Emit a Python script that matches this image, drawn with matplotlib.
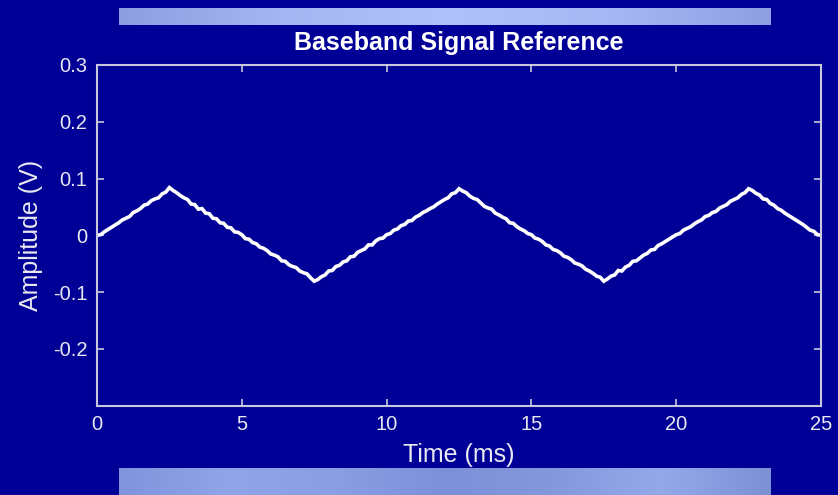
import numpy as np
import matplotlib
matplotlib.use("Agg")
import matplotlib.pyplot as plt
from matplotlib.colors import LinearSegmentedColormap

plt.rcParams['font.family'] = ['Liberation Sans', 'DejaVu Sans']

# ---- data ----
time_step_ms = 0.125
amplitude_v = [
    0.000, 0.001, 0.006, 0.010, 0.014, 0.018, 0.022, 0.027, 0.030, 0.033,
    0.040, 0.043, 0.047, 0.053, 0.055, 0.061, 0.064, 0.066, 0.073, 0.076, 0.084,
    # 2.5 -> 7.5
    0.079, 0.075, 0.070, 0.066, 0.063, 0.055, 0.054, 0.046, 0.047, 0.039,
    0.038, 0.030, 0.029, 0.022, 0.021, 0.014, 0.013, 0.006, 0.005, 0.001,
    -0.006, -0.007, -0.013, -0.015, -0.021, -0.023, -0.027, -0.033, -0.035, -0.038,
    -0.045, -0.046, -0.052, -0.055, -0.057, -0.063, -0.066, -0.068, -0.075, -0.081,
    # 7.5 -> 12.5
    -0.078, -0.073, -0.070, -0.063, -0.062, -0.055, -0.053, -0.047, -0.045, -0.038,
    -0.037, -0.030, -0.027, -0.024, -0.017, -0.017, -0.010, -0.006, -0.005, 0.001,
    0.003, 0.009, 0.011, 0.017, 0.019, 0.025, 0.026, 0.032, 0.035, 0.040,
    0.043, 0.047, 0.050, 0.055, 0.059, 0.063, 0.066, 0.073, 0.075, 0.082,
    # 12.5 -> 17.5
    0.078, 0.075, 0.069, 0.065, 0.063, 0.057, 0.051, 0.048, 0.046, 0.039,
    0.036, 0.032, 0.029, 0.022, 0.021, 0.015, 0.011, 0.008, 0.003, 0.001,
    -0.005, -0.007, -0.011, -0.017, -0.019, -0.025, -0.027, -0.031, -0.037, -0.039,
    -0.043, -0.049, -0.051, -0.054, -0.060, -0.063, -0.067, -0.072, -0.074, -0.081,
    # 17.5 -> 22.5
    -0.077, -0.072, -0.070, -0.062, -0.063, -0.056, -0.053, -0.046, -0.045, -0.040,
    -0.035, -0.032, -0.026, -0.025, -0.018, -0.015, -0.011, -0.007, -0.003, 0.001,
    0.003, 0.009, 0.012, 0.015, 0.020, 0.024, 0.027, 0.033, 0.035, 0.040,
    0.042, 0.048, 0.051, 0.054, 0.060, 0.063, 0.066, 0.072, 0.075, 0.082,
    # 22.5 -> 25
    0.079, 0.074, 0.071, 0.064, 0.063, 0.056, 0.053, 0.047, 0.044, 0.039,
    0.035, 0.031, 0.027, 0.023, 0.019, 0.014, 0.009, 0.007, 0.001, 0.000,
]
time_ms = np.arange(len(amplitude_v)) * time_step_ms

x_ticks = [0, 5, 10, 15, 20, 25]
y_ticks = [-0.2, -0.1, 0, 0.1, 0.2, 0.3]
y_tick_labels = ['-0.2', '-0.1', '0', '0.1', '0.2', '0.3']

title = 'Baseband Signal Reference'
xlabel = 'Time (ms)'
ylabel = 'Amplitude (V)'

# ---- style ----
BG = '#000096'
FG = '#e8e8f0'
SPINE = '#c8c8dc'

W, H = 838, 495
fig = plt.figure(figsize=(W / 100, H / 100), dpi=100, facecolor=BG)

# decorative gradient bars
bar_cmap_top = LinearSegmentedColormap.from_list(
    'top', ['#8c9ee0', '#a6b6f2', '#b0c0fa', '#a8b8f4', '#8e9ee2'])
bar_cmap_bot = LinearSegmentedColormap.from_list(
    'bot', ['#8094dc', '#90a4e8', '#8a9ee4', '#7c90d8', '#8498dc', '#94a8ea', '#7e90d4'])
grad = np.linspace(0, 1, 256).reshape(1, -1)

ax_top = fig.add_axes([119 / W, 1 - 25 / H, 651 / W, 17 / H])
ax_top.imshow(grad, aspect='auto', cmap=bar_cmap_top)
ax_top.axis('off')

ax_bot = fig.add_axes([119 / W, 0, 651 / W, 27 / H])
ax_bot.imshow(grad, aspect='auto', cmap=bar_cmap_bot)
ax_bot.axis('off')

# main axes
ax = fig.add_axes([97 / W, 1 - 405.5 / H, 724 / W, (405.5 - 65) / H])
ax.set_facecolor(BG)
ax.plot(time_ms, amplitude_v, color='white', linewidth=2.6, solid_joinstyle='miter')

ax.set_xlim(0, 25)
ax.set_ylim(-0.3, 0.3)
ax.set_xticks(x_ticks)
ax.set_xticklabels([str(v) for v in x_ticks])
ax.set_yticks(y_ticks)
ax.set_yticklabels(y_tick_labels)

for s in ax.spines.values():
    s.set_color(SPINE)
    s.set_linewidth(1.5)

ax.tick_params(direction='in', length=5, width=1.2, color=SPINE,
               labelcolor=FG, labelsize=14.5, top=True, right=True, pad=7)

ax.set_title(title, color='white', fontsize=18, fontweight='bold', pad=11)
ax.set_xlabel(xlabel, color=FG, fontsize=18, labelpad=6.5)
ax.set_ylabel(ylabel, color=FG, fontsize=18, labelpad=7)

fig.savefig('out.png', dpi=100, facecolor=BG)
